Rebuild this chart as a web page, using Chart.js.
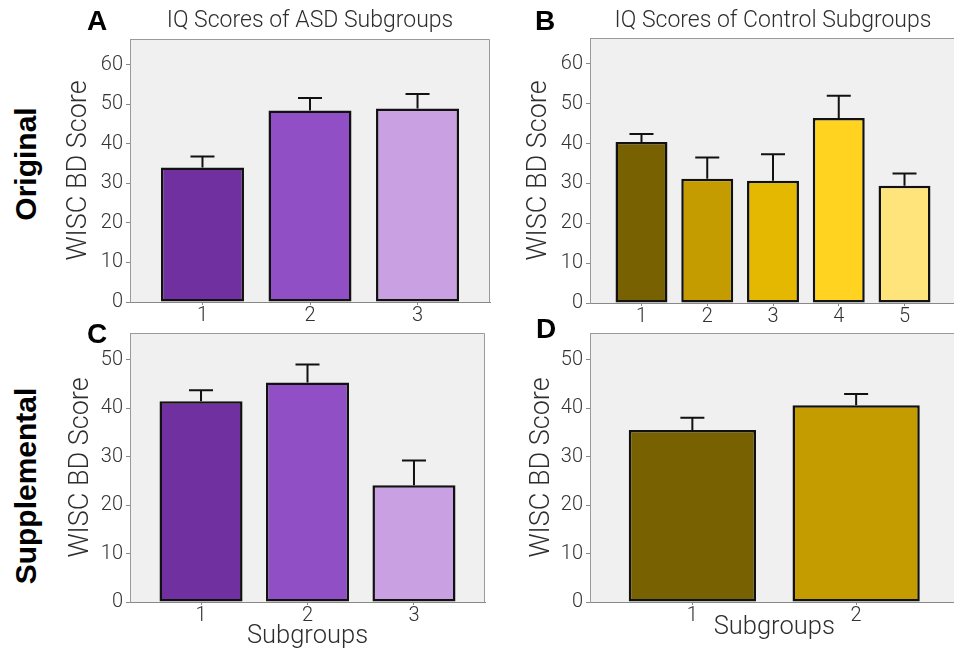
<!DOCTYPE html>
<html>
<head>
<meta charset="utf-8">
<script src="https://cdn.jsdelivr.net/npm/chart.js@4.4.1/dist/chart.umd.min.js"></script>
<style>
  html, body { margin: 0; padding: 0; background: #ffffff; }
  body { width: 954px; height: 653px; overflow: hidden; position: relative; }
  canvas { position: absolute; }
  .letter { position: absolute; font-family: "Liberation Sans", Arial, sans-serif; font-weight: bold; font-size: 28px; line-height: 28px; color: #000; }
  .rowlab { position: absolute; font-family: "Liberation Sans", Arial, sans-serif; font-weight: bold; font-size: 30px; line-height: 30px; color: #000; white-space: nowrap; transform: translate(-50%, -50%) rotate(-90deg); }
</style>
</head>
<body>
<canvas id="cA" width="440" height="330" style="left:60px;top:0px;"></canvas>
<canvas id="cB" width="470" height="330" style="left:500px;top:0px;"></canvas>
<canvas id="cC" width="440" height="335" style="left:60px;top:318px;"></canvas>
<canvas id="cD" width="470" height="335" style="left:500px;top:318px;"></canvas>

<div class="letter" style="left:87px;top:7px;">A</div>
<div class="letter" style="left:535px;top:7px;">B</div>
<div class="letter" style="left:87px;top:320px;">C</div>
<div class="letter" style="left:536px;top:315px;">D</div>
<div class="rowlab" style="left:26px;top:164px;">Original</div>
<div class="rowlab" style="left:26px;top:486px;">Supplemental</div>

<script>
// ---------------- DATA ----------------
const asdCategories = ['1', '2', '3'];
const controlCategories = ['1', '2', '3', '4', '5'];
const controlSuppCategories = ['1', '2'];

// Panel A: IQ Scores of ASD Subgroups (Original)
const asdOriginalMeans = [34.0, 48.4, 48.9];
const asdOriginalErrors = [2.8, 3.2, 3.7];

// Panel B: IQ Scores of Control Subgroups (Original)
const controlOriginalMeans = [40.4, 31.2, 30.7, 46.4, 29.4];
const controlOriginalErrors = [2.0, 5.3, 6.6, 5.6, 3.1];

// Panel C: ASD Subgroups (Supplemental)
const asdSupplementalMeans = [41.4, 45.3, 24.1];
const asdSupplementalErrors = [2.3, 3.7, 5.1];

// Panel D: Control Subgroups (Supplemental)
const controlSupplementalMeans = [35.5, 40.6];
const controlSupplementalErrors = [2.5, 2.3];

const purpleColors = ['#7030A0', '#914FC6', '#C9A1E2'];
const goldColors = ['#786100', '#C49C00', '#E4B800', '#FFD320', '#FFE37B'];

const yAxisTitle = 'WISC BD Score';
const xAxisTitle = 'Subgroups';
const titleA = 'IQ Scores of ASD Subgroups';
const titleB = 'IQ Scores of Control Subgroups';

// ---------------- PLUGINS ----------------
const LIGHT = 'Roboto';
const frameBg = {
  id: 'frameBg',
  beforeDraw(chart) {
    const a = chart.chartArea, ctx = chart.ctx;
    ctx.save();
    ctx.fillStyle = '#f0f0f0';
    ctx.fillRect(a.left, a.top, a.right - a.left, a.bottom - a.top);
    ctx.strokeStyle = '#9a9a9a';
    ctx.lineWidth = 1;
    ctx.beginPath();
    ctx.moveTo(Math.round(a.left) + 0.5, a.bottom);
    ctx.lineTo(Math.round(a.left) + 0.5, Math.round(a.top) + 0.5);
    ctx.lineTo(Math.round(a.right) - 0.5, Math.round(a.top) + 0.5);
    ctx.lineTo(Math.round(a.right) - 0.5, a.bottom);
    ctx.stroke();
    ctx.restore();
  }
};
const errorBars = {
  id: 'errorBars',
  afterDatasetsDraw(chart) {
    const ctx = chart.ctx, ys = chart.scales.y;
    chart.data.datasets.forEach((ds, di) => {
      const meta = chart.getDatasetMeta(di);
      meta.data.forEach((bar, i) => {
        const top = ys.getPixelForValue(ds.data[i].y + ds.errors[i]);
        const x = bar.x;
        ctx.save();
        ctx.strokeStyle = '#111';
        ctx.lineWidth = 2;
        ctx.beginPath();
        ctx.moveTo(x, bar.y);
        ctx.lineTo(x, top);
        ctx.moveTo(x - 12, top);
        ctx.lineTo(x + 12, top);
        ctx.stroke();
        ctx.restore();
      });
    });
  }
};

// ---------------- BUILDER ----------------
function makePanel(id, o) {
  const positions = o.categories.map((c, i) => i + 1);
  const plugins = {
    legend: { display: false },
    tooltip: { enabled: false },
    title: { display: false }
  };
  if (o.title) {
    plugins.title = {
      display: true, text: o.title, fullSize: false, color: '#2e2e2e',
      font: { family: LIGHT, size: 23, weight: 300, lineHeight: 1.2 },
      padding: { top: 7, bottom: o.titleBottom }
    };
  }
  new Chart(document.getElementById(id), {
    type: 'bar',
    data: {
      datasets: [{
        data: o.means.map((m, i) => ({ x: positions[i], y: m })),
        errors: o.errors,
        backgroundColor: o.colors,
        borderColor: '#111',
        borderWidth: 2.5,
        borderSkipped: false,
        barPercentage: o.barPct,
        categoryPercentage: 1
      }]
    },
    options: {
      responsive: false,
      animation: false,
      devicePixelRatio: 1,
      layout: { padding: { top: o.padTop, right: o.padRight, left: 0, bottom: 0 } },
      plugins,
      scales: {
        x: {
          type: 'linear', offset: false,
          min: 1 - o.xPad, max: o.categories.length + o.xPad,
          afterBuildTicks: (axis) => { axis.ticks = positions.map(v => ({ value: v })); },
          afterFit: (s) => { s.height = o.xHeight; },
          grid: { drawOnChartArea: false, drawTicks: true, tickLength: 3, color: '#888', offset: false },
          border: { display: true, color: '#888', width: 1 },
          ticks: {
            autoSkip: false, maxRotation: 0, padding: 1, color: '#333',
            font: { family: LIGHT, size: 20, weight: 300, lineHeight: 1 },
            callback: (v, i) => o.categories[i]
          },
          title: o.xTitle ? {
            display: true, text: xAxisTitle, color: '#2e2e2e',
            font: { family: LIGHT, size: 25.5, weight: 300, lineHeight: 1.2 },
            padding: { top: 0, bottom: o.xTitleBottom }
          } : { display: false }
        },
        y: {
          min: 0, max: o.yMax,
          afterFit: (s) => { s.width = o.yWidth; },
          grid: { drawOnChartArea: false, drawTicks: true, tickLength: 4, color: '#888' },
          border: { display: true, color: '#9a9a9a', width: 1 },
          ticks: {
            stepSize: 10, includeBounds: false, padding: 3, color: '#333',
            font: { family: LIGHT, size: 20, weight: 300 }
          },
          title: {
            display: true, text: yAxisTitle, color: '#2e2e2e',
            font: { family: LIGHT, size: 27, weight: 300, lineHeight: 1.2 },
            padding: { top: o.yTitlePad, bottom: 0 }
          }
        }
      }
    },
    plugins: [frameBg, errorBars]
  });
}

makePanel('cA', {
  categories: asdCategories, means: asdOriginalMeans, errors: asdOriginalErrors, colors: purpleColors,
  title: titleA, titleBottom: 4.4, padTop: 0, padRight: 10, xPad: 0.674, barPct: 0.772,
  xHeight: 28, yWidth: 70, yMax: 66.5, yTitlePad: 2.8, xTitle: false
});
makePanel('cB', {
  categories: controlCategories, means: controlOriginalMeans, errors: controlOriginalErrors, colors: goldColors,
  title: titleB, titleBottom: 3.4, padTop: 0, padRight: 14, xPad: 0.783, barPct: 0.79,
  xHeight: 27, yWidth: 90, yMax: 66.5, yTitlePad: 22.8, xTitle: false
});
makePanel('cC', {
  categories: asdCategories, means: asdSupplementalMeans, errors: asdSupplementalErrors, colors: purpleColors,
  title: null, padTop: 13.5, padRight: 15, xPad: 0.667, barPct: 0.78,
  xHeight: 51, yWidth: 70, yMax: 55.5, yTitlePad: 4.8, xTitle: true, xTitleBottom: 1
});
makePanel('cD', {
  categories: controlSuppCategories, means: controlSupplementalMeans, errors: controlSupplementalErrors, colors: goldColors.slice(0, 2),
  title: null, padTop: 11, padRight: 11.5, xPad: 0.625, barPct: 0.777,
  xHeight: 51, yWidth: 90, yMax: 55.5, yTitlePad: 25.8, xTitle: true, xTitleBottom: 10
});
</script>
</body>
</html>
